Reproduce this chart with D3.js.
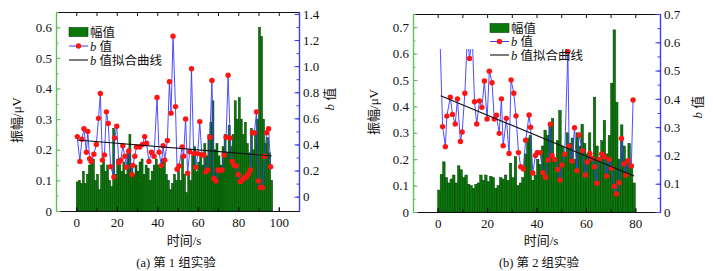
<!DOCTYPE html>
<html><head><meta charset="utf-8">
<script src="https://cdn.jsdelivr.net/npm/d3@7"></script>
<style>
body{margin:0;background:#fff}
svg{display:block}
text{font-family:"Liberation Serif","Noto Sans CJK SC",serif;fill:#111}
</style>
</head><body>
<svg id="c" width="713" height="271"></svg>
<script>
// ---------- Panel (a) data ----------
const ampA = [
 .095,.10,.09,.13,.09,.12,.15,.16,.17,.10,
 .12,.07,.15,.17,.13,.15,.10,.08,.27,.12,
 .17,.15,.13,.16,.12,.19,.25,.14,.12,.15,
 .13,.16,.17,.12,.15,.14,.10,.13,.15,.17,
 .15,.14,.17,.16,.12,.10,.07,.09,.12,.10,
 .14,.10,.18,.12,.06,.13,.10,.18,.21,.13,
 .16,.19,.15,.22,.18,.25,.29,.36,.20,.22,
 .18,.15,.21,.25,.19,.28,.21,.25,.36,.30,
 .37,.30,.25,.29,.22,.19,.27,.20,.25,.30,
 .60,.57,.30,.22,.24,.19,.10];
const bTimeA = [0.5,1.8,2.8,3.8,5,5.7,6.6,7.4,8.7,9.9,11,11.9,12.9,13.9,14.9,15.8,17,18.6,19,20,
 21,22,23,24,24.8,25.9,27.5,28,28.9,29.7,31.3,32.7,33.8,34.7,35.9,37.1,38.4,39.9,40.9,42,
 42.9,43.7,45,46,46.8,47.8,49,49.8,50.8,52.3,53,54,55,56,56.9,58,59,60,61,62,
 63,64,65,66,67,68,69,70,71,72,73,74,75,76,77,78,79,80,81,82,
 83,84,85,86,87,88,89,90,91,92,93,94,95,96];
const bValA = [.46,.27,.44,.52,.34,.50,.29,.27,.325,.40,.60,.79,.28,.32,.65,.56,.23,.15,.45,.54,
 .26,.28,.39,.31,.225,.35,.17,.24,.31,.38,.38,.40,.46,.41,.27,.34,.31,.76,.34,.24,
 .39,.28,.43,.88,.64,1.23,.69,.21,.235,.38,.31,.595,.18,.345,.98,.33,.225,.33,.575,.32,
 .32,.19,.205,.455,.89,.14,.12,.205,.20,.205,.32,.455,.93,.45,.27,.24,.235,.17,.115,.13,
 .145,.15,.175,.205,.49,.49,.65,.12,.07,.07,.31,.49,.52,.23];
const fitTimeA = [0.5, 96.5];
const fitValA = [0.434, 0.312];
const xTicksA = [0,20,40,60,80,100];
const yLeftTicksA = [0,0.1,0.2,0.3,0.4,0.5,0.6];
const yRightTicksA = [0,0.2,0.4,0.6,0.8,1.0,1.2,1.4];

// ---------- Panel (b) data ----------
const ampB = [
 .083,.143,.19,.13,.11,.125,.14,.11,.175,.16,
 .13,.14,.105,.10,.09,.105,.11,.14,.12,.14,
 .115,.135,.13,.09,.10,.13,.125,.14,.12,.185,
 .13,.21,.10,.11,.13,.22,.28,.29,.12,.14,
 .20,.18,.25,.31,.29,.33,.354,.20,.27,.385,
 .25,.22,.30,.26,.28,.20,.30,.25,.332,.26,
 .22,.30,.20,.435,.25,.20,.27,.347,.22,.29,
 .488,.69,.416,.20,.33,.25,.20,.26,.18,.11];
const bTimeB = [0.9,2,3.1,3.7,5.1,6,7.1,8,9.2,9.9,11,12,12.9,14,14.9,15.8,16.9,17.9,18.9,20,
 20.9,22,22.9,23.8,24.9,25.8,26.5,27.8,28.9,29.7,30.8,31.7,32.7,33.6,34.7,35.6,37,37.6,38.5,39.6,
 40.3,41.4,42.6,43.7,44.7,45.6,46.3,47.4,48.6,49.5,50.3,51.4,52.7,53.2,54.3,55.4,56.3,57.3,58.6,59.7,
 60.6,61.6,62.4,63.5,64.4,65.3,66.4,67.5,68.4,69.4,70.4,71.5,72.3,73.4,74.4,75.4,76.2,77.1,78.4,79.1];
const bValB = [.62,.302,.231,.339,.406,.345,.311,.40,.249,.283,.42,.62,.543,.62,.39,.311,.393,.37,.463,.329,
 .498,.457,.329,.342,.278,.40,.234,.331,.207,.467,.42,.34,.21,.16,.152,.254,.343,.30,.138,.20,
 .21,.21,.139,.123,.184,.31,.20,.186,.15,.113,.166,.204,.567,.233,.18,.298,.146,.272,.217,.131,
 .177,.207,.19,.16,.102,.186,.205,.195,.127,.186,.155,.09,.064,.104,.26,.17,.131,.181,.163,.396];
const fitTimeB = [1.2, 79.5];
const fitValB = [0.411, 0.127];
const xTicksB = [0,20,40,60,80];
const yLeftTicksB = [0,0.1,0.2,0.3,0.4,0.5,0.6,0.7];
const yRightTicksB = [0,0.1,0.2,0.3,0.4,0.5,0.6,0.7];

const legendLabels = ["幅值", "值", "值拟合曲线"];
const xTitle = "时间/s", yLeftTitle = "振幅/μV", yRightTitle = "值";
const captions = ["(a) 第 1 组实验", "(b) 第 2 组实验"];

const svg = d3.select("#c");
const BAR_FILL = "#0a780a", BAR_STROKE = "#023d02";
const LINE_BLUE = "#3a3aff", DOT_RED = "#ff1414";
const AX_GREEN = "#5cbf5c", AX_BLUE = "#3b3bff";

function drawPanel(o){
  const x = d3.scaleLinear().domain(o.xDom).range(o.xRange);
  const yL = d3.scaleLinear().domain(o.yLDom).range([o.bottom, o.top]);
  const yR = d3.scaleLinear().domain(o.yRDom).range([o.bottom, o.top]);
  const g = svg.append("g");
  const id = "clip" + o.key;
  svg.append("defs").append("clipPath").attr("id", id).append("rect")
    .attr("x", o.xRange[0]).attr("y", o.clipTop).attr("width", o.xRange[1]-o.xRange[0]).attr("height", o.bottom - o.clipTop);

  // bars
  g.append("g").selectAll("rect").data(o.amp).join("rect")
    .attr("x", (d,i)=>x(i)).attr("width", (d,i)=>x(i+1)-x(i))
    .attr("y", d=>yL(d)).attr("height", d=>yL(0)-yL(d))
    .attr("fill", BAR_FILL).attr("stroke", BAR_STROKE).attr("stroke-width", 0.5);

  // b-value line + dots
  const pts = o.bT.map((t,i)=>[t, o.bV[i]]);
  const cg = g.append("g").attr("clip-path", `url(#${id})`);
  cg.append("path").datum(pts)
    .attr("d", d3.line().x(d=>x(d[0])).y(d=>yR(d[1])))
    .attr("fill","none").attr("stroke", LINE_BLUE).attr("stroke-width", 0.9);
  cg.selectAll("circle").data(pts).join("circle")
    .attr("cx", d=>x(d[0])).attr("cy", d=>yR(d[1])).attr("r", 2.7).attr("fill", DOT_RED);

  // fit line
  g.append("path").datum(o.fitT.map((t,i)=>[t,o.fitV[i]]))
    .attr("d", d3.line().x(d=>x(d[0])).y(d=>yR(d[1])))
    .attr("stroke", "#111").attr("stroke-width", 1.1).attr("fill","none");

  // axes
  const styleAx = (sel, col) => {
    sel.selectAll("path.domain").attr("stroke", col).attr("stroke-width", 1.2);
    sel.selectAll(".tick line").attr("stroke", col);
    sel.selectAll(".tick text").attr("font-size", 13).attr("font-family", '"Liberation Serif",serif').attr("fill","#111");
  };
  const minorX = d3.range(o.xDom[0], o.xDom[1]+0.01, 10);
  let ax = g.append("g").attr("transform", `translate(0,${o.bottom})`)
    .call(d3.axisBottom(x).tickValues(minorX).tickFormat("").tickSizeInner(-3).tickSizeOuter(0));
  styleAx(ax, "#111");
  ax = g.append("g").attr("transform", `translate(0,${o.bottom})`)
    .call(d3.axisBottom(x).tickValues(o.xTicks).tickFormat(d3.format("d")).tickSizeInner(-4).tickSizeOuter(0).tickPadding(7));
  styleAx(ax, "#111");
  ax = g.append("g").attr("transform", `translate(0,${o.top})`)
    .call(d3.axisTop(x).tickValues(minorX).tickFormat("").tickSizeInner(-4).tickSizeOuter(0));
  styleAx(ax, "#111");
  const minorL = d3.range(0, o.yLDom[1]+0.001, 0.05);
  ax = g.append("g").attr("transform", `translate(${o.xRange[0]},0)`)
    .call(d3.axisLeft(yL).tickValues(minorL).tickFormat("").tickSizeInner(-2.5).tickSizeOuter(0));
  styleAx(ax, AX_GREEN);
  ax = g.append("g").attr("transform", `translate(${o.xRange[0]},0)`)
    .call(d3.axisLeft(yL).tickValues(o.yLTicks).tickFormat(d=>d===0?"0":d3.format(".1f")(d)).tickSizeInner(-4.5).tickSizeOuter(0).tickPadding(4));
  styleAx(ax, AX_GREEN);
  const minorR = d3.range(0, o.yRDom[1]+0.001, o.rMinor);
  ax = g.append("g").attr("transform", `translate(${o.xRange[1]},0)`)
    .call(d3.axisRight(yR).tickValues(minorR).tickFormat("").tickSizeInner(-2.5).tickSizeOuter(0));
  styleAx(ax, AX_BLUE);
  ax = g.append("g").attr("transform", `translate(${o.xRange[1]},0)`)
    .call(d3.axisRight(yR).tickValues(o.yRTicks).tickFormat(d=>d===0?"0":d3.format(".1f")(d)).tickSizeInner(-4.5).tickSizeOuter(0).tickPadding(4));
  styleAx(ax, AX_BLUE);

  // legend
  const lx = o.legX, ly = o.legY, dy = o.legDy;
  const lg = g.append("g").attr("font-size", 12.5);
  lg.append("rect").attr("x", lx).attr("y", ly-4.5).attr("width", 19).attr("height", 9)
    .attr("fill", BAR_FILL).attr("stroke", BAR_STROKE).attr("stroke-width", 0.6);
  lg.append("text").attr("x", lx+21).attr("y", ly+4.5).text(legendLabels[0]);
  lg.append("line").attr("x1", lx).attr("x2", lx+19).attr("y1", ly+dy).attr("y2", ly+dy)
    .attr("stroke", LINE_BLUE).attr("stroke-width", 1);
  lg.append("circle").attr("cx", lx+9.5).attr("cy", ly+dy).attr("r", 2.7).attr("fill", DOT_RED);
  let t = lg.append("text").attr("x", lx+21).attr("y", ly+dy+4.5);
  t.append("tspan").attr("font-style","italic").text("b");
  t.append("tspan").text(" " + legendLabels[1]);
  lg.append("line").attr("x1", lx).attr("x2", lx+19).attr("y1", ly+2*dy).attr("y2", ly+2*dy)
    .attr("stroke", "#111").attr("stroke-width", 1.1);
  t = lg.append("text").attr("x", lx+21).attr("y", ly+2*dy+4.5);
  t.append("tspan").attr("font-style","italic").text("b");
  t.append("tspan").text(" " + legendLabels[2]);

  // titles
  g.append("text").attr("x", o.xTitleX).attr("y", 245).attr("text-anchor","middle").attr("font-size", 13).text(xTitle);
  g.append("text").attr("transform", `translate(${o.yLTitleX},${o.yLTitleY}) rotate(-90)`)
    .attr("text-anchor","middle").attr("font-size", 13).text(yLeftTitle);
  t = g.append("text").attr("transform", `translate(${o.yRTitleX},${o.yRTitleY}) rotate(-90)`)
    .attr("text-anchor","middle").attr("font-size", 13);
  t.append("tspan").attr("font-style","italic").text("b");
  t.append("tspan").text(" " + yRightTitle);
  g.append("text").attr("x", o.capX).attr("y", 267).attr("text-anchor","middle").attr("font-size", 12.5).text(o.caption);
}

drawPanel({key:"a", amp:ampA, bT:bTimeA, bV:bValA, fitT:fitTimeA, fitV:fitValA,
  xDom:[-10,110], xRange:[56,299], top:12, bottom:211, clipTop:12,
  yLDom:[0,0.65], yRDom:[-0.11,1.415], rMinor:0.1,
  xTicks:xTicksA, yLTicks:yLeftTicksA, yRTicks:yRightTicksA,
  legX:69, legY:32, legDy:14, xTitleX:184, yLTitleX:21, yLTitleY:120, yRTitleX:334, yRTitleY:99,
  capX:176, caption:captions[0]});

drawPanel({key:"b", amp:ampB, bT:bTimeB, bV:bValB, fitT:fitTimeB, fitV:fitValB,
  xDom:[-10,90], xRange:[413,660], top:14, bottom:212, clipTop:49,
  yLDom:[0,0.75], yRDom:[0,0.7], rMinor:0.05,
  xTicks:xTicksB, yLTicks:yLeftTicksB, yRTicks:yRightTicksB,
  legX:490, legY:28, legDy:13.5, xTitleX:541, yLTitleX:378, yLTitleY:112, yRTitleX:702, yRTitleY:107,
  capX:539, caption:captions[1]});
</script>
</body></html>
